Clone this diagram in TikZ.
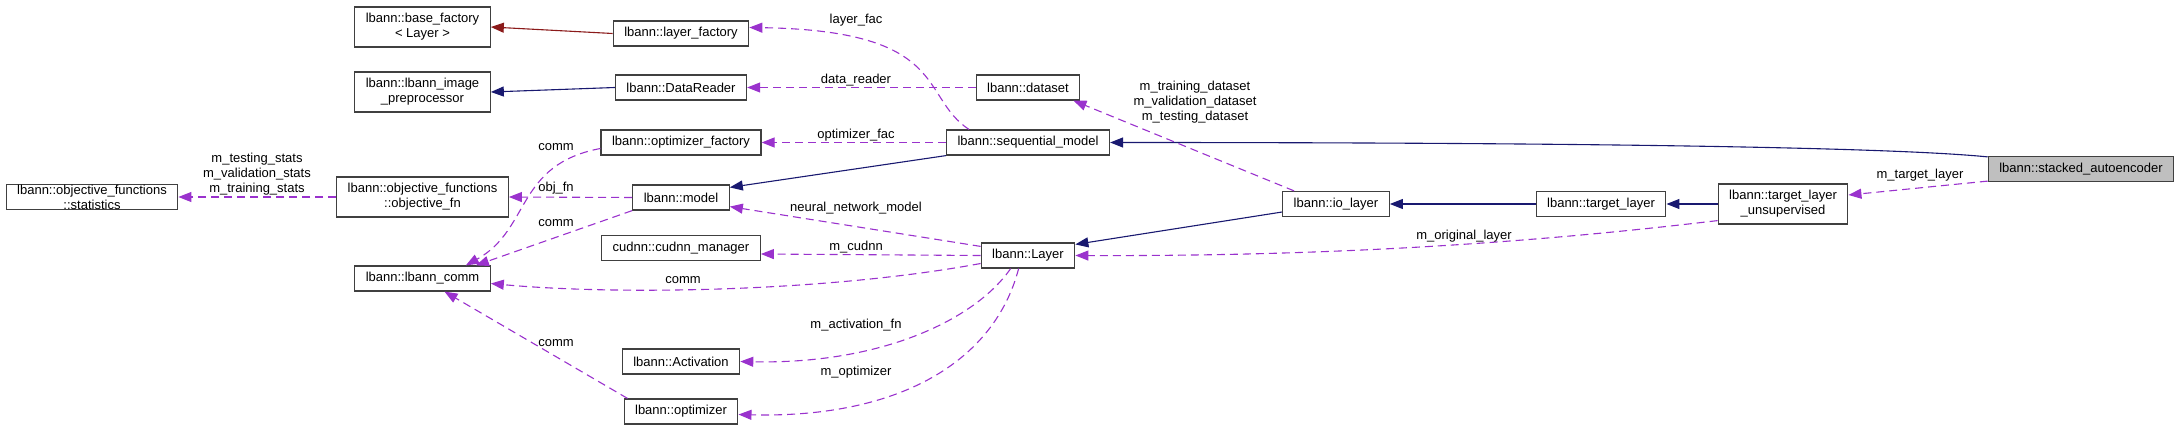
\documentclass[tikz,border=0pt]{standalone}
\definecolor{usepurple}{RGB}{154, 50, 205}
\definecolor{inhnavy}{RGB}{25, 25, 112}
\definecolor{tmplred}{RGB}{139, 26, 26}
\definecolor{boxgray}{RGB}{64, 64, 64}
\usepackage{fontspec}
\setmainfont{Liberation Sans}
\usepackage{tikz}
\usetikzlibrary{arrows.meta}

\begin{document}
\begin{tikzpicture}[x=1pt, y=-1pt, font=\fontsize{13}{15}\selectfont,
    cls/.style={draw=boxgray, line width=1.2pt, fill=white, align=center,
                inner xsep=11pt, inner ysep=0pt, minimum height=25pt},
    cls2/.style={cls, minimum height=40pt},
    uses/.style={draw=usepurple, line width=1.1pt, dash pattern=on 8pt off 5pt,
                 -{Triangle[length=13pt, width=10pt, fill=usepurple]}},
    inherit/.style={draw=inhnavy, line width=1.1pt, -{Triangle[length=13pt, width=10pt]}},
    tmpl/.style={draw=tmplred, line width=1.1pt, -{Triangle[length=13pt, width=10pt]}},
    lbl/.style={inner sep=0pt, align=center}]
    \useasboundingbox (0, 0) rectangle (2179, 431);

    % Classes, left column
    \node[cls] (stats) at (92, 197) {lbann::objective\_functions\\::statistics};
    \node[cls2] (basefac) at (422.5, 27) {lbann::base\_factory\\< Layer >};
    \node[cls2] (preproc) at (422.5, 92) {lbann::lbann\_image\\\_preprocessor};
    \node[cls2] (objfn) at (422.5, 197) {lbann::objective\_functions\\::objective\_fn};
    \node[cls] (comm) at (422.5, 278.5) {lbann::lbann\_comm};

    % Classes, middle column
    \node[cls] (layerfac) at (681, 33.5) {lbann::layer\_factory};
    \node[cls] (datareader) at (681, 87.5) {lbann::DataReader};
    \node[cls] (optfac) at (681, 142.5) {lbann::optimizer\_factory};
    \node[cls] (model) at (681, 197.5) {lbann::model};
    \node[cls] (cudnn) at (681, 248) {cudnn::cudnn\_manager};
    \node[cls] (activation) at (681, 361.5) {lbann::Activation};
    \node[cls] (optimizer) at (681, 411.5) {lbann::optimizer};

    % Classes, right side
    \node[cls] (dataset) at (1028, 87.5) {lbann::dataset};
    \node[cls] (seqmodel) at (1028, 142.5) {lbann::sequential\_model};
    \node[cls] (layer) at (1028, 255.5) {lbann::Layer};
    \node[cls] (iolayer) at (1336, 204) {lbann::io\_layer};
    \node[cls] (targetlayer) at (1601, 204) {lbann::target\_layer};
    \node[cls2] (tlu) at (1783, 204) {lbann::target\_layer\\\_unsupervised};
    \node[cls, fill=black!25] (sae) at (2081, 169) {lbann::stacked\_autoencoder};

    % Inheritance
    \draw[tmpl] (layerfac.west) -- (basefac.east);
    \draw[inherit] (datareader.west) -- (preproc.east);
    \draw[inherit] (seqmodel.south west) -- ([yshift=-3pt]model.north east);
    \draw[inherit] ([yshift=-1pt]sae.north west) .. controls +(-110, -11) and +(400, 0) .. (seqmodel.east);
    \draw[inherit] ([yshift=-8pt]iolayer.west) -- ([yshift=-2pt]layer.north east);
    \draw[inherit] (targetlayer.west) -- (iolayer.east);
    \draw[inherit] (tlu.west) -- (targetlayer.east);

    % Usage
    \draw[uses] (dataset.west) -- (datareader.east);
    \draw[uses] ([xshift=23pt]seqmodel.north west) .. controls +(-50, -33) and +(201, 3) .. ([yshift=6pt]layerfac.east);
    \draw[uses] (seqmodel.west) -- (optfac.east);
    \draw[uses] ([xshift=12pt]iolayer.north west) -- ([xshift=-7pt]dataset.south east);
    \draw[uses] ([yshift=4pt]tlu.south west) .. controls +(-168, 20) and +(275, 1) .. (layer.east);
    \draw[uses] ([yshift=1pt]sae.south west) -- ([yshift=9pt]tlu.east);
    \draw[uses] ([yshift=-4pt]layer.north west) -- ([yshift=4pt]model.south east);
    \draw[uses] (layer.west) -- ([yshift=-6pt]cudnn.east);
    \draw[uses] ([yshift=-8pt]layer.west) .. controls +(-151, 28) and +(130, 12) .. ([yshift=-5pt]comm.east);
    \draw[uses] ([xshift=30pt]layer.south west) .. controls +(-36, 52) and +(139, 3) .. (activation.east);
    \draw[uses] ([xshift=38pt]layer.south west) .. controls +(-24, 92) and +(162, 4) .. ([yshift=-3pt]optimizer.east);
    \draw[uses] (model.west) -- (objfn.east);
    \draw[uses] (objfn.west) -- (stats.east);
    \draw[uses] ([yshift=-6pt]optfac.west) .. controls +(-85, 16) and +(65, -36) .. ([xshift=-25pt]comm.north east);
    \draw[uses] (model.south west) -- ([xshift=-15pt]comm.north east);
    \draw[uses] ([xshift=4pt]optimizer.north west) -- ([xshift=22pt]comm.south);

    % Labels
    \node[lbl] (llayerfac) at (856, 20) {layer\_fac};
    \node[lbl] (ldatareader) at (856, 80) {data\_reader};
    \node[lbl] (loptfac) at (856, 135) {optimizer\_fac};
    \node[lbl] (ldataset) at (1195, 102) {m\_training\_dataset\\m\_validation\_dataset\\m\_testing\_dataset};
    \node[lbl] (lmodel) at (856, 208) {neural\_network\_model};
    \node[lbl] (lcudnn) at (856, 247) {m\_cudnn};
    \node[lbl] (lcomm) at (683, 280) {comm};
    \node[lbl] (lactivation) at (856, 325) {m\_activation\_fn};
    \node[lbl] (loptimizer) at (856, 372) {m\_optimizer};
    \node[lbl] (lorig) at (1464, 236) {m\_original\_layer};
    \node[lbl] (ltarget) at (1920, 175) {m\_target\_layer};
    \node[lbl] (lobjfn) at (556, 188) {obj\_fn};
    \node[lbl] (lcommopt) at (556, 147) {comm};
    \node[lbl] (lcommmodel) at (556, 223) {comm};
    \node[lbl] (lcommoptim) at (556, 343) {comm};
    \node[lbl] (lstats) at (257, 174) {m\_testing\_stats\\m\_validation\_stats\\m\_training\_stats};
\end{tikzpicture}
\end{document}
